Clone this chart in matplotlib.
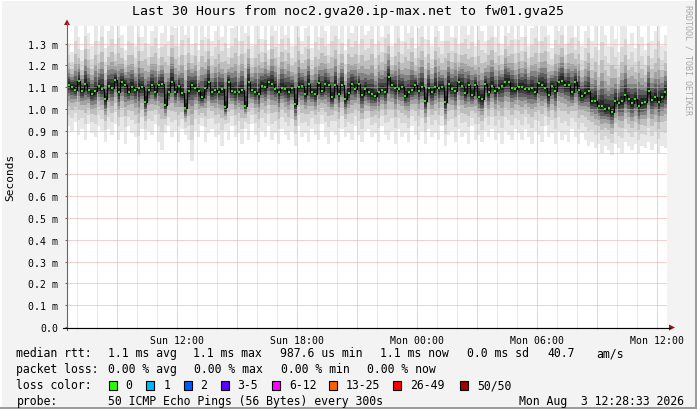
import numpy as np
import pandas as pd
import matplotlib
matplotlib.use("Agg")
import matplotlib.pyplot as plt
import matplotlib.dates as mdates
from matplotlib.patches import Rectangle, Polygon
from matplotlib.ticker import MultipleLocator, FuncFormatter

# ---- data (milliseconds), one value per 10 min step, Sun 06:30 -> Mon 12:30
title = "Last 30 Hours from noc2.gva20.ip-max.net to fw01.gva25"
start = "2026-08-02 06:30"

median_ms = [
    1.111, 1.103, 1.088, 1.128, 1.084, 1.114, 1.088, 1.071, 1.084, 1.107, 1.094, 1.045, 1.107, 1.096, 1.133,
    1.076, 1.122, 1.110, 1.079, 1.103, 1.088, 1.096, 1.099, 1.033, 1.088, 1.110, 1.076, 1.111, 1.114, 1.019,
    1.079, 1.125, 1.076, 1.107, 1.073, 1.004, 1.084, 1.110, 1.096, 1.081, 1.053, 1.096, 1.125, 1.076, 1.088,
    1.079, 1.094, 1.007, 1.125, 1.084, 1.079, 1.079, 1.088, 1.015, 1.122, 1.088, 1.079, 1.068, 1.107, 1.099,
    1.122, 1.114, 1.094, 1.076, 1.096, 1.091, 1.079, 1.096, 1.022, 1.103, 1.107, 1.068, 1.114, 1.079, 1.068,
    1.119, 1.084, 1.114, 1.110, 1.053, 1.110, 1.071, 1.110, 1.045, 1.073, 1.114, 1.091, 1.114, 1.064, 1.091,
    1.076, 1.068, 1.061, 1.079, 1.088, 1.076, 1.148, 1.110, 1.096, 1.091, 1.102, 1.061, 1.079, 1.088, 1.110,
    1.084, 1.102, 1.036, 1.096, 1.079, 1.102, 1.096, 1.099, 1.033, 1.114, 1.094, 1.084, 1.125, 1.107, 1.073,
    1.110, 1.064, 1.111, 1.056, 1.045, 1.114, 1.076, 1.107, 1.084, 1.096, 1.107, 1.122, 1.125, 1.096, 1.091,
    1.099, 1.103, 1.094, 1.091, 1.096, 1.076, 1.117, 1.111, 1.096, 1.064, 1.107, 1.084, 1.122, 1.129, 1.110,
    1.110, 1.076, 1.125, 1.088, 1.061, 1.073, 1.081, 1.038, 1.038, 1.015, 1.012, 1.000, 1.003, 0.987, 1.035,
    1.026, 1.035, 1.065, 1.045, 1.026, 1.048, 1.012, 1.027, 1.033, 1.081, 1.042, 1.053, 1.030, 1.056, 1.076,
]

low_ms = [
    0.92, 0.90, 0.94, 0.88, 0.91, 0.86, 0.93, 0.89, 0.87, 0.92, 0.90, 0.85, 0.91, 0.88, 0.93,
    0.86, 0.90, 0.84, 0.92, 0.89, 0.87, 0.79, 0.91, 0.86, 0.90, 0.88, 0.93, 0.85, 0.81, 0.89,
    0.92, 0.87, 0.90, 0.85, 0.91, 0.88, 0.86, 0.76, 0.90, 0.87, 0.92, 0.85, 0.89, 0.91, 0.87,
    0.88, 0.83, 0.90, 0.86, 0.92, 0.87, 0.89, 0.84, 0.91, 0.86, 0.93, 0.88, 0.85, 0.90, 0.87,
    0.92, 0.86, 0.89, 0.84, 0.91, 0.88, 0.86, 0.90, 0.83, 0.92, 0.87, 0.89, 0.85, 0.91, 0.88,
    0.86, 0.93, 0.87, 0.84, 0.90, 0.88, 0.85, 0.91, 0.87, 0.89, 0.86, 0.92, 0.88, 0.85, 0.90,
    0.91, 0.87, 0.89, 0.85, 0.92, 0.88, 0.86, 0.90, 0.84, 0.91, 0.87, 0.89, 0.85, 0.92, 0.88,
    0.86, 0.90, 0.84, 0.91, 0.87, 0.89, 0.86, 0.92, 0.83, 0.88, 0.90, 0.85, 0.91, 0.87, 0.89,
    0.84, 0.92, 0.86, 0.88, 0.85, 0.90, 0.87, 0.91, 0.86, 0.89, 0.84, 0.90, 0.88, 0.86, 0.91,
    0.89, 0.86, 0.91, 0.87, 0.84, 0.90, 0.88, 0.85, 0.92, 0.87, 0.89, 0.84, 0.90, 0.86, 0.88,
    0.85, 0.91, 0.87, 0.84, 0.89, 0.86, 0.83, 0.85, 0.82, 0.84, 0.80, 0.83, 0.81, 0.79, 0.84,
    0.82, 0.80, 0.85, 0.83, 0.81, 0.84, 0.80, 0.83, 0.82, 0.85, 0.81, 0.84, 0.80, 0.83, 0.82,
]

high_ms = [
    1.30, 1.26, 1.40, 1.33, 1.27, 1.42, 1.35, 1.29, 1.40, 1.31, 1.42, 1.28, 1.36, 1.41, 1.30,
    1.42, 1.34, 1.27, 1.40, 1.38, 1.29, 1.42, 1.33, 1.41, 1.30, 1.36, 1.42, 1.28, 1.35, 1.40,
    1.31, 1.42, 1.37, 1.29, 1.41, 1.34, 1.42, 1.30, 1.38, 1.27, 1.42, 1.33, 1.40, 1.31, 1.36,
    1.41, 1.33, 1.42, 1.28, 1.37, 1.42, 1.31, 1.40, 1.35, 1.42, 1.29, 1.38, 1.42, 1.32, 1.40,
    1.27, 1.42, 1.36, 1.30, 1.41, 1.34, 1.42, 1.29, 1.39, 1.42, 1.31, 1.37, 1.42, 1.28, 1.40,
    1.33, 1.42, 1.36, 1.30, 1.41, 1.42, 1.32, 1.38, 1.27, 1.42, 1.35, 1.40, 1.30, 1.42, 1.34,
    1.36, 1.42, 1.30, 1.40, 1.33, 1.42, 1.42, 1.29, 1.38, 1.42, 1.31, 1.40, 1.35, 1.42, 1.28,
    1.37, 1.42, 1.32, 1.40, 1.29, 1.42, 1.36, 1.31, 1.42, 1.39, 1.33, 1.42, 1.30, 1.38, 1.42,
    1.34, 1.40, 1.29, 1.42, 1.36, 1.31, 1.41, 1.42, 1.33, 1.38, 1.30, 1.42, 1.35, 1.40, 1.32,
    1.40, 1.33, 1.42, 1.29, 1.37, 1.42, 1.31, 1.39, 1.42, 1.34, 1.28, 1.41, 1.36, 1.42, 1.30,
    1.38, 1.42, 1.33, 1.40, 1.29, 1.36, 1.42, 1.31, 1.38, 1.27, 1.42, 1.34, 1.29, 1.40, 1.32,
    1.26, 1.38, 1.42, 1.30, 1.35, 1.28, 1.41, 1.33, 1.27, 1.39, 1.31, 1.36, 1.42, 1.29, 1.34,
]

loss_labels = ["0", "1", "2", "3-5", "6-12", "13-25", "26-49", "50/50"]
loss_colors = ["#26ff00", "#00b8ff", "#0059ff", "#5e00ff", "#ff00ff", "#ff5f00", "#ff0000", "#a10000"]

stats_rtt = ["1.1 ms avg", "1.1 ms max", "987.6 us min", "1.1 ms now", "0.0 ms sd", "40.7", "am/s"]
stats_loss = ["0.00 % avg", "0.00 % max", "0.00 % min", "0.00 % now"]
probe_text = "50 ICMP Echo Pings (56 Bytes) every 300s"
stamp = "Mon Aug  3 12:28:33 2026"

# ---- style
W, H = 697, 410
BG = "#f3f3f3"
MONO = "DejaVu Sans Mono"
plt.rcParams["font.family"] = MONO

fig = plt.figure(figsize=(W / 100, H / 100), dpi=100, facecolor=BG)
ax = fig.add_axes([67 / W, 1 - 328 / H, 600 / W, 301 / H])
ax.set_facecolor("white")

t = pd.date_range(start, periods=len(median_ms), freq="10min")
tn = mdates.date2num(t.to_pydatetime())
w = 10 / 1440.0
med = np.array(median_ms)
lo = np.array(low_ms)
hi = np.array(high_ms)

# smoke: bands between median and extremes, light outside -> dark inside
fracs = [1.0, 0.72, 0.52, 0.38, 0.28, 0.20, 0.13, 0.07]
greys = ["#e8e8e8", "#d6d6d6", "#bebebe", "#a2a2a2", "#828282", "#5f5f5f", "#404040", "#262626"]
for f, c in zip(fracs, greys):
    bot = med - f * (med - lo)
    top = med + f * (hi - med)
    ax.bar(tn, top - bot, bottom=bot, width=w, align="edge", color=c, linewidth=0, zorder=1)

tc = tn + w / 2
ax.step(tc, med, where="mid", color="#000000", lw=0.8, zorder=4)
ax.plot(tc, med, "s", ms=2.0, mew=0, color="#22f000", zorder=5)

x0 = mdates.date2num(pd.Timestamp("2026-08-02 06:30").to_pydatetime())
x1 = mdates.date2num(pd.Timestamp("2026-08-03 12:30").to_pydatetime())
ax.set_xlim(x0, x1)
ax.set_ylim(0, 301 / 218.0)

ax.xaxis.set_major_locator(mdates.HourLocator(byhour=range(0, 24, 3)))
ax.xaxis.set_minor_locator(mdates.HourLocator())


def xfmt(x, pos):
    d = mdates.num2date(x)
    return d.strftime("%a %H:%M") if d.hour % 6 == 0 else ""


ax.xaxis.set_major_formatter(FuncFormatter(xfmt))
ax.yaxis.set_major_locator(MultipleLocator(0.1))
ax.yaxis.set_major_formatter(FuncFormatter(lambda v, p: "0.0" if abs(v) < 1e-9 else "%.1f m" % v))

ax.set_axisbelow(False)
dots = (0, (1, 1))
ax.grid(which="major", axis="both", color="#f2a0a0", lw=0.72, linestyle=dots)
ax.grid(which="minor", axis="x", color="#d4d4d4", lw=0.72, linestyle=dots)
ax.tick_params(axis="both", which="major", labelsize=7.1, length=1.5, width=0.7, pad=2.5)
ax.tick_params(axis="x", which="major", colors="#f08080", labelcolor="black", pad=4)
ax.tick_params(axis="x", which="minor", length=1.5, width=0.7, color="#c4c4c4")
ax.tick_params(axis="y", colors="#666666", labelcolor="black", pad=5)
for s in ax.spines.values():
    s.set_visible(False)

# ---- overlay in pixel coordinates
ov = fig.add_axes([0, 0, 1, 1], zorder=10)
ov.set_xlim(0, W)
ov.set_ylim(H, 0)
ov.axis("off")
ov.patch.set_alpha(0)

ov.plot([66.5, 66.5], [331, 24], color="#666666", lw=0.8)
ov.plot([63, 670], [328.5, 328.5], color="black", lw=0.8)
ov.add_patch(Polygon([(64, 26), (70, 26), (67, 20.5)], closed=True, color="#a01010", lw=0))
ov.add_patch(Polygon([(669, 325.5), (669, 331.5), (675, 328.5)], closed=True, color="#a01010", lw=0))

# 3d frame
ov.plot([0.5, W - 0.5], [0.5, 0.5], color="white", lw=1.4)
ov.plot([0.5, 0.5], [0.5, H - 0.5], color="white", lw=1.4)
ov.plot([0.5, W - 0.5], [H - 0.7, H - 0.7], color="#9a9a9a", lw=1.4)
ov.plot([W - 0.7, W - 0.7], [0.5, H - 0.5], color="#9a9a9a", lw=1.4)

ov.text(348.5, 12, title, ha="center", va="center", fontsize=9.5)
ov.text(10, 177, "Seconds", rotation=90, ha="center", va="center", fontsize=8)
ov.text(688, 5, "RRDTOOL / TOBI OETIKER", rotation=270, ha="center", va="top", fontsize=6, color="#a8a8a8")

fs = 8.3
rows = [354, 370, 386, 402]
ov.text(16.5, rows[0], "median rtt:", va="center", fontsize=fs)
for s, x in zip(stats_rtt, [108.5, 193, 280, 380, 467, 547, 596]):
    ov.text(x, rows[0], s, va="center", fontsize=fs)
ov.text(16.5, rows[1], "packet loss:", va="center", fontsize=fs)
for s, x in zip(stats_loss, [108.5, 194, 281, 367]):
    ov.text(x, rows[1], s, va="center", fontsize=fs)
ov.text(16.5, rows[2], "loss color:", va="center", fontsize=fs)
box_x = [108.5, 146.4, 183.5, 220.5, 272.3, 328.6, 392.9, 459.8]
for lab, col, x in zip(loss_labels, loss_colors, box_x):
    ov.add_patch(Rectangle((x, rows[2] - 4.5), 8, 9, facecolor=col, edgecolor="black", lw=0.8))
    ov.text(x + 17, rows[2], lab, va="center", fontsize=fs)
ov.text(16.5, rows[3], "probe:", va="center", fontsize=fs)
ov.text(108.5, rows[3], probe_text, va="center", fontsize=fs)
ov.text(684, rows[3], stamp, va="center", ha="right", fontsize=fs)

fig.savefig("out.png", dpi=100, facecolor=BG)
